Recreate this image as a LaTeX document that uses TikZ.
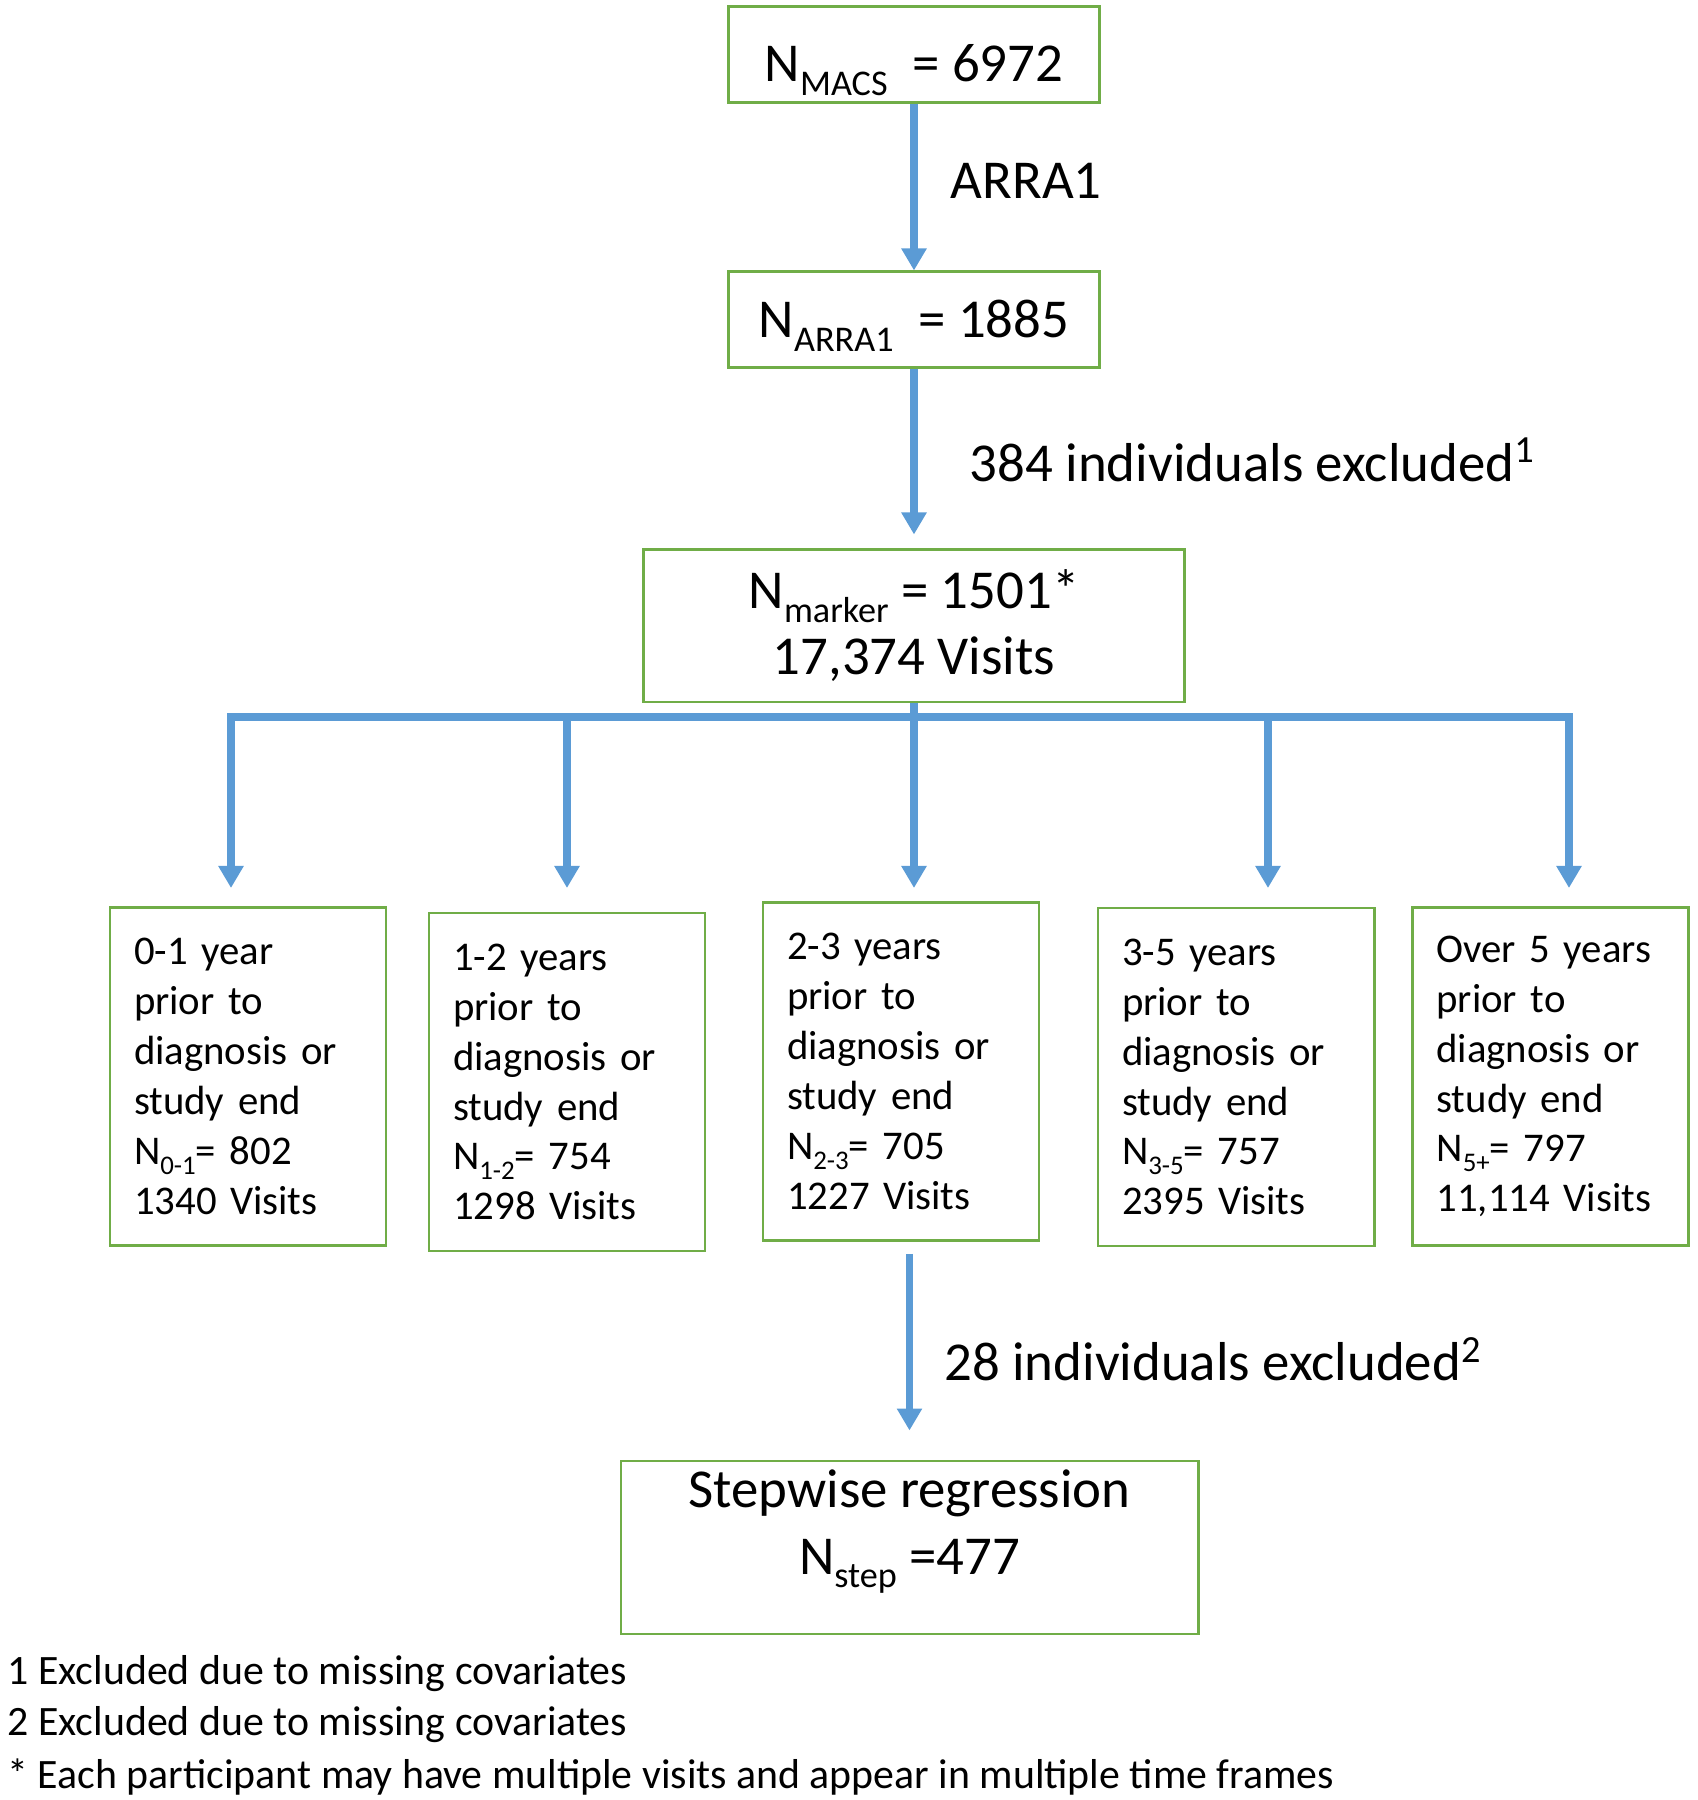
\documentclass[tikz,border=0pt]{standalone}
\usepackage{fontspec}
\setmainfont{Carlito}
\usetikzlibrary{arrows.meta,positioning}
\definecolor{frame}{HTML}{70AD47}
\definecolor{flow}{HTML}{5B9BD5}
\newcommand{\lowsub}[1]{\raisebox{-0.24em}{\scalebox{0.66}{#1}}}
\tikzset{
  box/.style={
    draw=frame, line width=0.85pt, fill=white,
    inner xsep=0pt, inner ysep=0pt,
    align=center, font=\fontsize{15.6}{18.8}\selectfont
  },
  arrow/.style={-{Triangle[length=2.2mm, width=2.4mm]}, line width=2.2pt, draw=flow},
  note/.style={inner sep=0pt, font=\fontsize{15.6}{18.8}\selectfont},
  foot/.style={inner sep=0pt, anchor=base west, font=\fontsize{11.9}{14.2}\selectfont}
}

\begin{document}
\begin{tikzpicture}[
    top/.style={box, minimum width=3.71cm, minimum height=0.96cm, text depth=0pt},
    period/.style={box, minimum width=2.76cm, minimum height=3.38cm, text width=2.28cm,
      align=left, font=\fontsize{11.6}{14.2}\selectfont}
  ]
  \useasboundingbox (0,0) rectangle (16.98,18);
  \node[top, text height=0.55cm] (macs) at (9.14,17.455) {N\lowsub{MACS}~ = 6972};
  \node[top, text height=0.36cm] (arra) at (9.14,14.80) {N\lowsub{ARRA1}~ = 1885};
  \node[box, minimum width=5.41cm, minimum height=1.52cm] (marker) at (9.14,11.74) {N\lowsub{marker} = 1501*\\17,374 Visits};
  \node[period] (p1) at (2.48,7.235) {0-1 year\\prior to\\diagnosis or\\study end\\N\lowsub{0-1}= 802\\1340 Visits};
  \node[period] (p2) at (5.67,7.18) {1-2 years\\prior to\\diagnosis or\\study end\\N\lowsub{1-2}= 754\\1298 Visits};
  \node[period] (p3) at (9.01,7.285) {2-3 years\\prior to\\diagnosis or\\study end\\N\lowsub{2-3}= 705\\1227 Visits};
  \node[period] (p4) at (12.36,7.23) {3-5 years\\prior to\\diagnosis or\\study end\\N\lowsub{3-5}= 757\\2395 Visits};
  \node[period] (p5) at (15.505,7.235) {Over 5 years\\prior to\\diagnosis or\\study end\\N\lowsub{5+}= 797\\11,114 Visits};
  \node[box, minimum width=5.77cm, minimum height=1.73cm] (step) at (9.095,2.525) {};
  \node[note, align=center, below=0.1cm of step.north] (steptext) {Stepwise regression\\N\lowsub{step} =477};
  \coordinate (bus) at (9.14,10.83);
  \coordinate (t1) at (2.31,9.12);
  \coordinate (t2) at (5.67,9.12);
  \coordinate (t3) at (9.14,9.12);
  \coordinate (t4) at (12.68,9.12);
  \coordinate (t5) at (15.69,9.12);
  \draw[arrow] (macs) -- node[note, right=0.33cm, yshift=0.06cm] {ARRA1} (arra);
  \draw[arrow] (arra) -- node[note, right=0.52cm, yshift=-0.08cm] {384 individuals excluded\textsuperscript{1}} ([yshift=0.14cm]marker.north);
  \draw[arrow] (bus) -| (t1);
  \draw[arrow] (bus) -| (t5);
  \draw[arrow] (bus -| t2) -- (t2);
  \draw[arrow] (bus -| t4) -- (t4);
  \draw[arrow] (marker.south) -- (t3);
  \draw[arrow] ([yshift=-0.12cm]p3.south -| step.north) -- node[note, right=0.31cm, yshift=-0.17cm] {28 individuals excluded\textsuperscript{2}} ([yshift=0.29cm]step.north);
  \node[foot] (f1) at (0.07,1.15) {1 Excluded due to missing covariates};
  \node[foot] (f2) at (0.07,0.64) {2 Excluded due to missing covariates};
  \node[foot] (f3) at (0.07,0.12) {* Each participant may have multiple visits and appear in multiple time frames};
\end{tikzpicture}
\end{document}
